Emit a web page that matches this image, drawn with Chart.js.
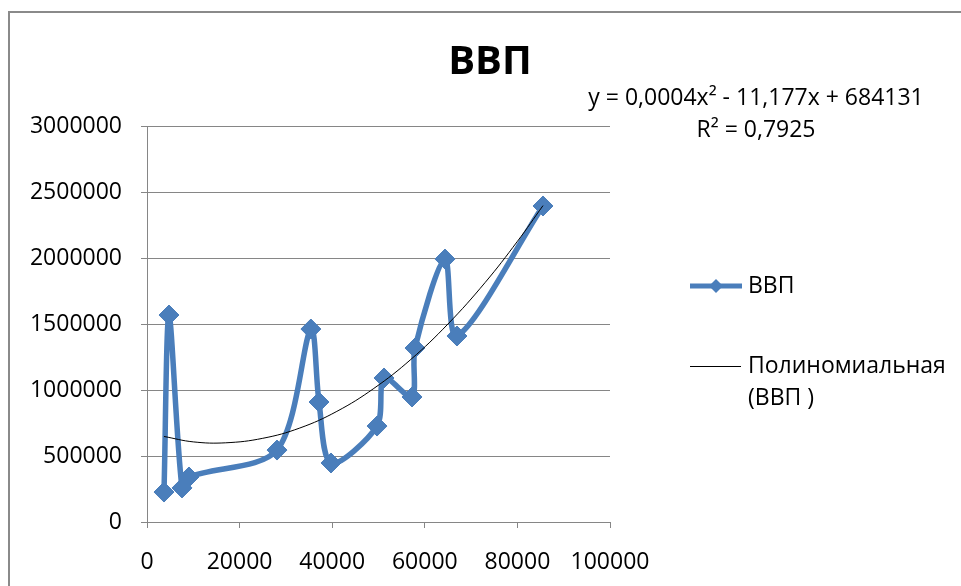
<!DOCTYPE html>
<html>
<head>
<meta charset="utf-8">
<script src="https://cdn.jsdelivr.net/npm/chart.js@4.4.0/dist/chart.umd.min.js"></script>
<style>
  html, body { margin: 0; padding: 0; background: #ffffff; overflow: hidden; }
  canvas { display: block; }
</style>
</head>
<body>
<canvas id="gdpChart" width="961" height="586"></canvas>
<script>
// values
const gdpX = [3670, 4750, 7560, 9070, 28080, 35400, 37150, 39740, 49680, 51190, 57240, 57880, 64360, 66950, 85530];
const gdpY = [227000, 1568000, 258000, 341000, 545000, 1462000, 909000, 447000, 727000, 1091000, 947000, 1318000, 1992000, 1409000, 2394000];

const trendX = [3670, 10000, 17000, 25000, 33000, 41000, 49000, 57000, 65000, 73000, 80000, 85530];
const trendY = [648000, 607000, 600000, 634000, 712000, 838000, 1012000, 1232000, 1500000, 1813000, 2126000, 2397000];

const xTicks = [0, 20000, 40000, 60000, 80000, 100000];
const yTicks = [0, 500000, 1000000, 1500000, 2000000, 2500000, 3000000];

const chartTitle = "ВВП";
const seriesName = "ВВП";
const trendName = ["Полиномиальная", "(ВВП )"];
const equationText = "y = 0,0004x² - 11,177x + 684131";
const rSquaredText = "R² = 0,7925";

const blue = "#4a7ebb";
const gridGrey = "#868686";
const fontFamily = "'Open Sans', 'DejaVu Sans', sans-serif";

const gdpPoints = gdpX.map((x, i) => ({ x: x, y: gdpY[i] }));
const trendPoints = trendX.map((x, i) => ({ x: x, y: trendY[i] }));

// frame, title, trend equation and legend drawn straight on the canvas
const decorPlugin = {
  id: "decor",
  beforeDraw(chart) {
    const ctx = chart.ctx;
    ctx.save();
    ctx.fillStyle = "#ffffff";
    ctx.fillRect(0, 0, chart.width, chart.height);
    ctx.strokeStyle = "#8a8a8a";
    ctx.lineWidth = 2;
    ctx.strokeRect(9, 12, chart.width + 20, chart.height + 20);
    ctx.restore();
  },
  afterDraw(chart) {
    const ctx = chart.ctx;
    ctx.save();
    ctx.fillStyle = "#000000";
    ctx.textBaseline = "middle";

    ctx.textAlign = "center";
    ctx.font = "bold 40px " + fontFamily;
    ctx.fillText(chartTitle, 490, 63);

    ctx.font = "23px " + fontFamily;
    ctx.fillText(equationText, 756, 98);
    ctx.fillText(rSquaredText, 756, 130);

    // legend
    ctx.textAlign = "left";
    ctx.strokeStyle = blue;
    ctx.lineWidth = 5;
    ctx.beginPath();
    ctx.moveTo(690, 286);
    ctx.lineTo(742, 286);
    ctx.stroke();
    ctx.fillStyle = blue;
    ctx.beginPath();
    ctx.moveTo(716, 279);
    ctx.lineTo(723, 286);
    ctx.lineTo(716, 293);
    ctx.lineTo(709, 286);
    ctx.closePath();
    ctx.fill();
    ctx.fillStyle = "#000000";
    ctx.fillText(seriesName, 748, 286);

    ctx.strokeStyle = "#000000";
    ctx.lineWidth = 1;
    ctx.beginPath();
    ctx.moveTo(690, 366.5);
    ctx.lineTo(741, 366.5);
    ctx.stroke();
    ctx.fillText(trendName[0], 748, 366);
    ctx.fillText(trendName[1], 748, 398);
    ctx.restore();
  },
};

const ctx = document.getElementById("gdpChart").getContext("2d");
new Chart(ctx, {
  type: "scatter",
  data: {
    datasets: [
      {
        label: trendName.join(" "),
        data: trendPoints,
        showLine: true,
        borderColor: "#000000",
        borderWidth: 1,
        pointRadius: 0,
        tension: 0.4,
        order: 0,
      },
      {
        label: seriesName,
        data: gdpPoints,
        showLine: true,
        borderColor: blue,
        backgroundColor: blue,
        borderWidth: 5.5,
        pointStyle: "rectRot",
        pointRadius: 10,
        pointBorderWidth: 1,
        tension: 0.3,
        order: 1,
      },
    ],
  },
  options: {
    responsive: false,
    animation: false,
    devicePixelRatio: 1,
    layout: { padding: { top: 126, right: 351, left: 0, bottom: 0 } },
    plugins: {
      legend: { display: false },
      title: { display: false },
      tooltip: { enabled: false },
    },
    scales: {
      x: {
        type: "linear",
        min: xTicks[0],
        max: xTicks[xTicks.length - 1],
        afterBuildTicks: (scale) => {
          scale.ticks = xTicks.map((v) => ({ value: v }));
        },
        afterFit: (scale) => {
          scale.height = 64;
        },
        ticks: {
          color: "#000000",
          font: { family: fontFamily, size: 23 },
          padding: 21,
          maxRotation: 0,
          callback: (v) => String(v),
        },
        grid: {
          drawOnChartArea: false,
          drawTicks: true,
          tickLength: 6,
          color: gridGrey,
        },
        border: { color: gridGrey },
      },
      y: {
        type: "linear",
        min: yTicks[0],
        max: yTicks[yTicks.length - 1],
        afterBuildTicks: (scale) => {
          scale.ticks = yTicks.map((v) => ({ value: v }));
        },
        afterFit: (scale) => {
          scale.width = 147;
        },
        ticks: {
          color: "#000000",
          font: { family: fontFamily, size: 23 },
          padding: 19,
          callback: (v) => String(v),
        },
        grid: {
          drawTicks: true,
          tickLength: 6,
          color: gridGrey,
        },
        border: { color: gridGrey },
      },
    },
  },
  plugins: [decorPlugin],
});
</script>
</body>
</html>
